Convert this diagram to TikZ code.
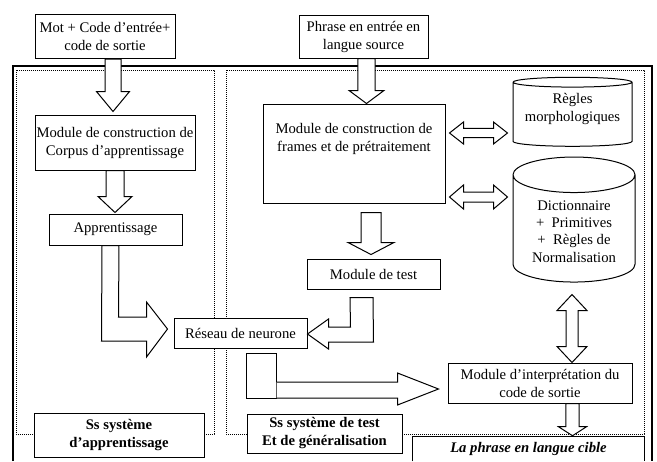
\documentclass[tikz,border=0pt]{standalone}
\usepackage{fontspec}
\setmainfont{Liberation Serif}
\usetikzlibrary{calc,shapes.geometric,positioning}

\tikzset{
  blk/.style={draw, fill=white, line width=0.75pt, line join=miter},
  fatdown/.style n args={3}{blk, to path={let \p1=(\tikztostart), \p2=(\tikztotarget) in
      (\x1-#1,\y1) -- (\x1-#1,\y2+#3) -- (\x1-#2,\y2+#3) -- (\x1,\y2)
      -- (\x1+#2,\y2+#3) -- (\x1+#1,\y2+#3) -- (\x1+#1,\y1) -- cycle}},
  fatlr/.style n args={3}{blk, to path={let \p1=(\tikztostart), \p2=(\tikztotarget) in
      (\x1,\y1) -- (\x1+#3,\y1+#2) -- (\x1+#3,\y1+#1) -- (\x2-#3,\y1+#1) -- (\x2-#3,\y1+#2)
      -- (\x2,\y1) -- (\x2-#3,\y1-#2) -- (\x2-#3,\y1-#1) -- (\x1+#3,\y1-#1) -- (\x1+#3,\y1-#2) -- cycle}},
  fatud/.style n args={3}{blk, to path={let \p1=(\tikztostart), \p2=(\tikztotarget) in
      (\x1,\y1) -- (\x1+#2,\y1-#3) -- (\x1+#1,\y1-#3) -- (\x1+#1,\y2+#3) -- (\x1+#2,\y2+#3)
      -- (\x1,\y2) -- (\x1-#2,\y2+#3) -- (\x1-#1,\y2+#3) -- (\x1-#1,\y1-#3) -- (\x1-#2,\y1-#3) -- cycle}}
}

\begin{document}
\begin{tikzpicture}[x=0.75pt, y=-0.75pt,
    every node/.style={font=\fontsize{11}{13.5}\selectfont, align=center, inner sep=1pt},
    box/.style 2 args={draw, fill=white, line width=0.75pt, minimum width=#1, minimum height=#2},
    cyl/.style 2 args={draw, fill=white, line width=0.75pt, cylinder, shape border rotate=90,
        shape aspect=#2, minimum width=#1},
    dots/.style={line width=0.7pt, dash pattern=on 0.7pt off 0.8pt}]
    \useasboundingbox (0,0) rectangle (657,461);

    \draw[line width=1.1pt] (13,461) |- (652,66) -- (652,461);
    \draw[dots] (16,70) rectangle (214,434);
    \draw[dots] (226,70) rectangle (644,434);

    \node[box={105pt}{33pt}] (mot) at (105,36.5) {Mot + Code d’entrée+\\code de sortie};
    \node[box={96.75pt}{32.25pt}] (phrase) at (363.5,36.5) {Phrase en entrée en\\langue source};
    \node[box={120pt}{41.25pt}] (corpus) at (115,142.5) {Module de construction de\\Corpus d’apprentissage};
    \node[box={99.75pt}{23.25pt}] (appr) at (115.5,229.5) {Apprentissage};
    \node[box={99.75pt}{22.5pt}] (reseau) at (240.5,333) {Réseau de neurone};
    \node[box={127.5pt}{33pt}, font=\fontsize{11}{13.5}\selectfont\bfseries] (ssapp) at (119,435) {Ss système\\d’apprentissage};
    \node[box={116.25pt}{29.25pt}, font=\fontsize{11}{13.5}\selectfont\bfseries] (sstest) at (324.5,433.5) {Ss système de test\\Et de généralisation};
    \node[box={136.5pt}{74.25pt}, text height=8pt, text depth=11.3pt] (frames) at (354,153.5) {Module de construction de\\frames et de prétraitement};
    \node[cyl={89.25pt}{0.1}, minimum height=51.75pt, text height=14.5pt, text depth=4.5pt] (regles) at (572.5,115) {Règles\\morphologiques};
    \node[cyl={91.5pt}{0.41}, minimum height=93.75pt, font=\fontsize{11}{13}\selectfont, text height=50pt, text depth=2.5pt] (dict) at (574,230.5) {Dictionnaire\\+~~Primitives\\+~~Règles de\\Normalisation};
    \node[box={99.75pt}{22.5pt}] (test) at (373.5,274) {Module de test};
    \node[box={138pt}{30pt}] (interp) at (540,383) {Module d’interprétation du\\code de sortie};
    \node[minimum width=173.25pt, minimum height=18pt, font=\fontsize{11}{13.5}\selectfont\bfseries\itshape] (cible) at (528.5,449) {La phrase en langue cible};
    \draw[line width=0.75pt] (cible.south west) |- (cible.north east) -- (cible.south east);

    \draw[fatdown={6pt}{12.4pt}{15pt}] ([shift={(8,0)}]mot.south) to ([shift={(0,-3)}]corpus.north);
    \draw[fatdown={6.75pt}{12.75pt}{12pt}] (corpus.south) to ([shift={(0,-1)}]appr.north);
    \draw[fatdown={6.4pt}{13.1pt}{9.75pt}] ([shift={(3,0)}]phrase.south) to (frames.north);
    \draw[fatdown={7.5pt}{17.25pt}{9pt}] ([shift={(17,9)}]frames.south) to ([shift={(0,-4)}]test.north);
    \draw[fatlr={3.4pt}{8.25pt}{10.5pt}] ([shift={(4,-20.5)}]frames.east) to ([shift={(-5,0)}]regles.west);
    \draw[fatlr={3.75pt}{9pt}{10.5pt}] ([shift={(4,43.5)}]frames.east) to ([shift={(-5,0)}]dict.west);
    \draw[fatud={4.5pt}{11.25pt}{12pt}] ([shift={(-2,12)}]dict.south) to (interp.north);
    \draw[fatdown={4.9pt}{10.5pt}{6.75pt}] ([shift={(32.5,0)}]interp.south) to ([shift={(0,-1)}]cible.north);

    \draw[blk] ([shift={(-13.5,0)}]appr.south) -- ([shift={(-72,8)}]reseau.west) -- ([shift={(-27,8)}]reseau.west)
        -- ([shift={(-27,24)}]reseau.west) -- ([shift={(-6,-4)}]reseau.west) -- ([shift={(-27,-31)}]reseau.west)
        -- ([shift={(-27,-16)}]reseau.west) -- ([shift={(-55,-16)}]reseau.west) -- ([shift={(3.5,0)}]appr.south) -- cycle;
    \draw[blk] ([shift={(-23.5,8)}]test.south) -- ([shift={(-0.5,8)}]test.south) -- ([shift={(66,9)}]reseau.east)
        -- ([shift={(21,9)}]reseau.east) -- ([shift={(21,16)}]reseau.east) -- ([shift={(0,1)}]reseau.east)
        -- ([shift={(21,-14)}]reseau.east) -- ([shift={(21,-6)}]reseau.east) -- ([shift={(43,-6)}]reseau.east) -- cycle;
    \draw[blk] ([shift={(-201,-30)}]interp.west) rectangle ([shift={(-171,15)}]interp.west);
    \draw[blk] ([shift={(-171,-1)}]interp.west) -- ([shift={(-50,-1)}]interp.west) -- ([shift={(-50,-10)}]interp.west)
        -- ([shift={(-9,6)}]interp.west) -- ([shift={(-50,22)}]interp.west) -- ([shift={(-50,15)}]interp.west)
        -- ([shift={(-171,15)}]interp.west);
\end{tikzpicture}
\end{document}
